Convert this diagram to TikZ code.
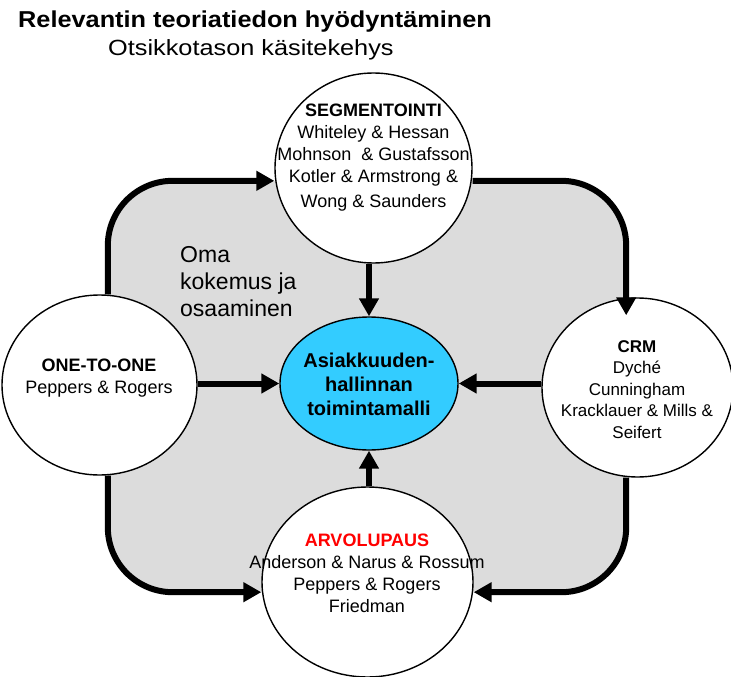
\documentclass[tikz,border=0pt]{standalone}
\usepackage{fontspec}
\usepackage{graphicx}
\setmainfont{Liberation Sans}
\usetikzlibrary{arrows.meta,shapes.geometric}
\definecolor{panelgray}{HTML}{DCDCDC}
\definecolor{corecyan}{HTML}{33CCFF}
\definecolor{accentred}{HTML}{FF0000}
\begin{document}
\begin{tikzpicture}[x=1pt,y=-1pt,
  theory/.style={ellipse, draw=black, line width=1.4pt, fill=white, inner sep=0pt},
  flow/.style={line width=6pt, -{Triangle[length=18pt,width=19pt]}},
  loop/.style={flow, rounded corners=65pt},
  body/.style={font=\fontsize{18}{22}\selectfont, align=center, anchor=base},
  corefont/.style={font=\bfseries\fontsize{20}{24}\selectfont, align=center, anchor=base}]
\useasboundingbox (0,0) rectangle (731,677);

% headings
\node[anchor=base west, inner sep=0pt, font=\bfseries\fontsize{23}{28}\selectfont] (title) at (18,28)
  {\scalebox{1.1}[1]{Relevantin teoriatiedon hyödyntäminen}};
\node[anchor=base west, inner sep=0pt, font=\fontsize{22}{26}\selectfont] (subtitle) at (108,56)
  {\scalebox{1.15}[1]{Otsikkotason käsitekehys}};

% shaded background panel
\node[rectangle, rounded corners=65pt, fill=panelgray, minimum width=518pt, minimum height=411pt,
  inner sep=0pt] (bg) at (367,386.5) {};

% multi-line texts are placed by the baseline of their last line
\node[anchor=base west, inner sep=0pt, align=left, font=\fontsize{23}{27}\selectfont] (own) at (180,316)
  {Oma\\kokemus ja\\osaaminen};

% theory circles
\node[theory, minimum width=197pt, minimum height=190pt] (seg) at (373.5,168) {};
\node[theory, minimum width=195pt, minimum height=180pt] (one) at (99.5,385) {};
\node[theory, minimum width=191pt, minimum height=179pt] (crm) at (637.5,387.5) {};
\node[theory, minimum width=211pt, minimum height=190pt] (arv) at (367.5,582) {};
\node[theory, fill=corecyan, minimum width=178pt, minimum height=133pt] (core) at (369,383.5) {};

% circle texts
\node[body] (segtext) at (373.5,207)
  {\textbf{SEGMENTOINTI}\\Whiteley \& Hessan\\Mohnson~ \& Gustafsson\\Kotler \& Armstrong \&\\[3pt]Wong \& Saunders};
\node[body] (onetext) at (99,393) {\textbf{ONE-TO-ONE}\\Peppers \& Rogers};
\node[body, font=\fontsize{17}{21.5}\selectfont] (crmtext) at (637,438)
  {\textbf{CRM}\\Dyché\\Cunningham\\Kracklauer \& Mills \&\\Seifert};
\node[body, font=\fontsize{18}{21.7}\selectfont] (arvtext) at (367,612)
  {\textcolor{accentred}{\textbf{ARVOLUPAUS}}\\Anderson \& Narus \& Rossum\\Peppers \& Rogers\\Friedman};
\node[corefont] (coretext) at (369,415) {Asiakkuuden-\\hallinnan\\toimintamalli};

% outer loop
\draw[loop] (one.north -| bg.west) -- (bg.north west) -- (seg.west |- bg.north);
\draw[loop] (seg.east |- bg.north) -- (bg.north east) -- ([yshift=-18pt]crm.north -| bg.east);
\draw[loop] (crm.south -| bg.east) -- (bg.south east) -- (arv.east |- bg.south);
\draw[loop] (one.south -| bg.west) -- (bg.south west) -- (arv.west |- bg.south);

% inputs to the core model
\draw[flow] (seg.south -| core) -- (core.north);
\draw[flow] (one.east |- core) -- (core.west);
\draw[flow] (crm.west |- core) -- (core.east);
\draw[flow] (arv.north -| core) -- (core.south);
\end{tikzpicture}
\end{document}
